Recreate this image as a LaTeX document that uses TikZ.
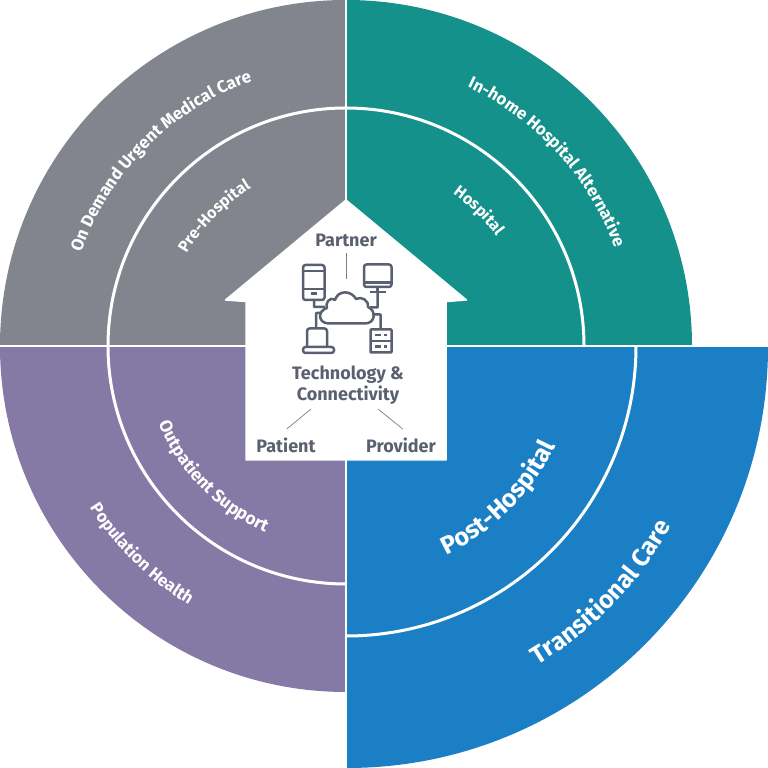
\documentclass[tikz,border=0pt]{standalone}
\usepackage{fontspec}
\setmainfont{Fira Sans}
\usetikzlibrary{decorations.text}
\definecolor{cgray}{HTML}{82858D}
\definecolor{cteal}{HTML}{14918A}
\definecolor{cpurple}{HTML}{857AA6}
\definecolor{cblue}{HTML}{1A7FC4}
\definecolor{cink}{HTML}{5B6070}
\newcommand{\arctext}[5]{% radius, start, end, size, text
  \path[decorate,decoration={text along path,text align=center,text color=white,
    text={|\fontsize{#4}{#4}\selectfont\bfseries|#5}}]
    (346,422) ++(#2:#1) arc (#2:#3:#1);}
\tikzset{
  sector/.style={line width=0pt},
  ringline/.style={white,line width=3pt},
  gapline/.style={white,line width=2pt},
  label/.style={text=cink,font=\fontsize{18}{21}\selectfont\bfseries,inner sep=0pt,align=center},
  leader/.style={draw=cink!80,line width=.7pt},
  icon/.style={draw=cink,line width=2.5pt,line join=round,rounded corners=.6pt},
  iconround/.style={icon,rounded corners=2.5pt},
  screenframe/.style={x=1pt,y=-1pt,shift={(0pt,768pt)}}
}
\begin{document}
\begin{tikzpicture}[x=1pt,y=1pt]
\useasboundingbox (0,0) rectangle (768,768);
% sectors
\fill[cgray,sector] (346,422) -- (0,422) arc (180:90:346) -- cycle;
\fill[cteal,sector] (346,422) -- (346,768) arc (90:0:346) -- cycle;
\fill[cpurple,sector] (346,422) -- (346,76) arc (270:180:346) -- cycle;
\fill[cblue,sector] (347,421) -- (768,421) arc (0:-90:421) -- cycle;
% rings
\draw[ringline] (346,422) ++(0:238) arc (0:270:238);
\draw[ringline] (346,422) ++(0:290) arc (0:-90:290);
\draw[gapline] (346,0) -- (346,768);
\draw[gapline] (0,422) -- (768,422);
% curved labels
\arctext{281}{171}{99}{17}{On Demand Urgent Medical Care}
\arctext{184}{165.5}{105.5}{16}{Pre-Hospital}
\arctext{286}{78}{7}{16.9}{In-home Hospital Alternative}
\arctext{186}{76}{15}{16}{Hospital}
\arctext{303}{200}{251}{16.9}{Population Health}
\arctext{203}{190.5}{258.5}{17.5}{Outpatient Support}
\arctext{232}{-75}{-15}{25}{Post-Hospital}
\arctext{372}{-70}{-18}{25}{Transitional Care}
% house and icon, in screen coordinates
\begin{scope}[screenframe]
\fill[white,line join=round,draw=white,line width=1.5pt] (346,200) -- (466.5,300) -- (446,301.5) -- (446,460) -- (246,460) -- (246,301.5) -- (225.5,300) -- cycle;
\node[label] (partner) at (346,240) {Partner};
\node[label] (tech) at (348,385) {Technology \&\\Connectivity};
\node[label] (patient) at (286,445) {Patient};
\node[label] (provider) at (401,445) {Provider};
\coordinate (pa) at (346,253);
\coordinate (pb) at (346,279);
\coordinate (la) at (311,409);
\coordinate (lb) at (286.7,429);
\coordinate (ra) at (378,409);
\coordinate (rb) at (402.7,429);
\draw[leader] (pa) -- (pb);
\draw[leader] (la) -- (lb);
\draw[leader] (ra) -- (rb);
% phone
\draw[iconround] (303,265) rectangle (324.5,300);
\draw[icon] (303,271) -- (324.5,271);
\draw[icon] (303,289) -- (324.5,289);
\fill[cink] (310.5,292) rectangle (317,295);
% monitor
\draw[iconround] (364,264.5) rectangle (391.5,287);
\draw[icon] (364,282.5) -- (391.5,282.5);
\draw[icon] (377.7,287) -- (377.7,292);
\draw[icon] (370,292) -- (386,292);
% cloud
\draw[icon,rounded corners=0pt] (329,323.5) -- (365,323.5)
  .. controls (375,323.5) and (377,311) .. (368,307)
  .. controls (369,300) and (361,296) .. (356,299)
  .. controls (351,290) and (338,290) .. (335,300)
  .. controls (329,296) and (325,304) .. (327,308)
  .. controls (317,311) and (318,323.5) .. (329,323.5);
% links
\draw[icon] (314,300) -- (314,307) -- (325,307);
\draw[icon] (377.7,292) -- (377.7,307.5) -- (370,307.5);
\draw[icon] (316,328) -- (316,313) -- (321,313);
\draw[icon] (380.7,329) -- (380.7,314.5) -- (372,314.5);
% laptop
\draw[iconround] (307,347) -- (307,328.5) -- (327,328.5) -- (327,347);
\draw[iconround] (303,347) rectangle (334,353);
% server
\draw[icon] (370.5,329.5) rectangle (391.5,352.5);
\draw[icon] (370.5,341) -- (391.5,341);
\fill[cink] (375,334) rectangle (381,336.5);
\fill[cink] (383.5,334) rectangle (386.5,336.5);
\fill[cink] (375,345.5) rectangle (381,348);
\fill[cink] (383.5,345.5) rectangle (386.5,348);
\end{scope}
\end{tikzpicture}
\end{document}
